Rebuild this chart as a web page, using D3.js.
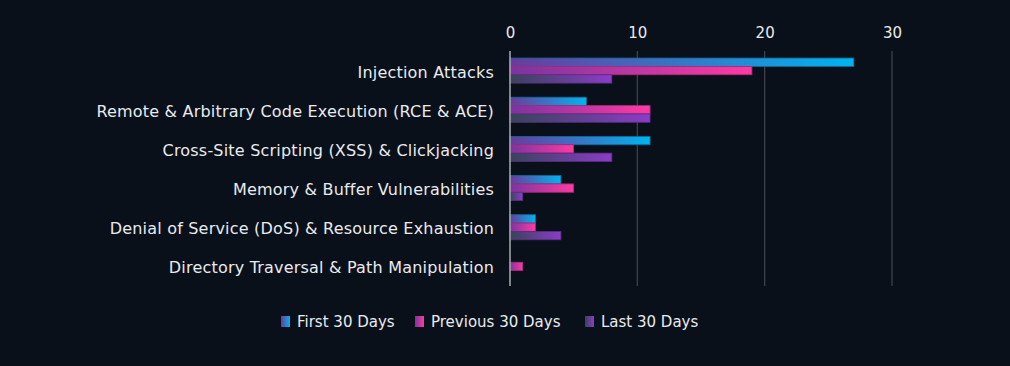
<!DOCTYPE html>
<html>
<head>
<meta charset="utf-8">
<script src="https://cdn.jsdelivr.net/npm/d3@7"></script>
<style>
  html, body { margin: 0; padding: 0; background: #09101a; }
  svg text { font-family: "Century Gothic", "DejaVu Sans", sans-serif; fill: #e9ebee; }
</style>
</head>
<body>
<div id="chart"></div>
<script>
// data
var categories = [
	"Injection Attacks",
	"Remote & Arbitrary Code Execution (RCE & ACE)",
	"Cross-Site Scripting (XSS) & Clickjacking",
	"Memory & Buffer Vulnerabilities",
	"Denial of Service (DoS) & Resource Exhaustion",
	"Directory Traversal & Path Manipulation"
];
var seriesNames = ["First 30 Days", "Previous 30 Days", "Last 30 Days"];
var firstValues = [27, 6, 11, 4, 2, 0];
var previousValues = [19, 11, 5, 5, 2, 1];
var lastValues = [8, 11, 8, 1, 4, 0];
var tickValues = [0, 10, 20, 30];

var W = 1010, H = 366;

var svg = d3.select("#chart").append("svg")
	.attr("width", W)
	.attr("height", H);

svg.append("rect").attr("width", W).attr("height", H).attr("fill", "#09101a");

// gradients per series (left -> right)
var gradColors = [
	{from: "#6c3a9c", to: "#00b4f0", stroke: "#0b6c9c"},
	{from: "#7a34a0", to: "#ff3aa2", stroke: "#a52a78"},
	{from: "#37445a", to: "#8c3cc8", stroke: "#5a2c84"}
];
var defs = svg.append("defs");
gradColors.forEach(function(c, i) {
	var g = defs.append("linearGradient")
		.attr("id", "grad" + i)
		.attr("x1", "0%").attr("x2", "100%").attr("y1", "0%").attr("y2", "0%");
	g.append("stop").attr("offset", "0%").attr("stop-color", c.from);
	g.append("stop").attr("offset", "100%").attr("stop-color", c.to);
});

// scales
var xScale = d3.scaleLinear()
	.domain([0, 30])
	.range([510, 892]);

var yScale = d3.scaleBand()
	.domain(categories)
	.range([51, 286])
	.paddingInner(0.36)
	.paddingOuter(0.18);

var ySub = d3.scaleBand()
	.domain(seriesNames)
	.range([0, yScale.bandwidth()]);

// gridlines
svg.append("g").selectAll("line")
	.data(tickValues.slice(1))
	.enter().append("line")
	.attr("x1", function(d) { return xScale(d); })
	.attr("x2", function(d) { return xScale(d); })
	.attr("y1", 51).attr("y2", 286)
	.attr("stroke", "#3c424c")
	.attr("stroke-width", 1.3);

// tick labels on top
var xAxis = d3.axisTop(xScale).tickValues(tickValues).tickSize(0).tickPadding(0);
var axisG = svg.append("g")
	.attr("transform", "translate(0,38)")
	.call(xAxis);
axisG.select(".domain").remove();
axisG.selectAll("text")
	.attr("font-size", "15px")
	.style("font-family", null);

// bars
var series = [firstValues, previousValues, lastValues];
series.forEach(function(vals, si) {
	svg.append("g").selectAll("rect")
		.data(vals.map(function(v, i) { return {cat: categories[i], value: v}; })
			.filter(function(d) { return d.value > 0; }))
		.enter().append("rect")
		.attr("x", xScale(0))
		.attr("y", function(d) { return yScale(d.cat) + ySub(seriesNames[si]); })
		.attr("width", function(d) { return xScale(d.value) - xScale(0); })
		.attr("height", ySub.bandwidth())
		.attr("fill", "url(#grad" + si + ")")
		.attr("stroke", gradColors[si].stroke)
		.attr("stroke-width", 0.8);
});

// zero axis line
svg.append("line")
	.attr("x1", xScale(0)).attr("x2", xScale(0))
	.attr("y1", 51).attr("y2", 286)
	.attr("stroke", "#a9acb2")
	.attr("stroke-width", 1.5);

// category labels
svg.append("g").selectAll("text")
	.data(categories)
	.enter().append("text")
	.attr("x", 494)
	.attr("y", function(d) { return yScale(d) + yScale.bandwidth() / 2 + 2.5; })
	.attr("text-anchor", "end")
	.attr("dominant-baseline", "middle")
	.attr("font-size", "16px")
	.attr("letter-spacing", "0.2px")
	.text(function(d) { return d; });

// legend
var legendX = [281, 415, 585];
var legend = svg.append("g").selectAll("g")
	.data(seriesNames)
	.enter().append("g")
	.attr("transform", function(d, i) { return "translate(" + legendX[i] + ",316)"; });
legend.append("rect")
	.attr("width", 9).attr("height", 11)
	.attr("fill", function(d, i) { return "url(#grad" + i + ")"; });
legend.append("text")
	.attr("x", 16).attr("y", 6.5)
	.attr("dominant-baseline", "middle")
	.attr("font-size", "15px")
	.text(function(d) { return d; });
</script>
</body>
</html>
